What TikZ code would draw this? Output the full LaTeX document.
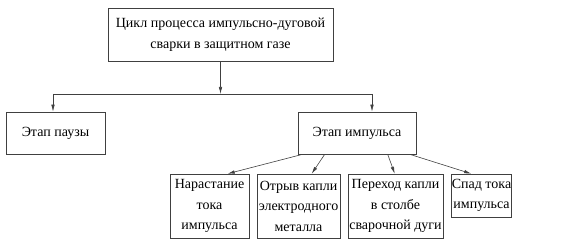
\documentclass[tikz,border=0pt]{standalone}
\usepackage{fontspec}
\setmainfont{Liberation Serif}
\usetikzlibrary{arrows.meta,calc}
\begin{document}
\begin{tikzpicture}[x=1pt,y=1pt,
  box/.style={draw=black!75,line width=0.6pt,align=center,inner sep=0pt,
    font=\fontsize{14}{20.5}\selectfont},
  conn/.style={draw=black!75,line width=0.6pt},
  arr/.style={conn,-{Latex[length=7pt,width=3.5pt]}}]
\useasboundingbox (0,0) rectangle (561,248);
\node[box,minimum width=225pt,minimum height=53pt] (top) at (220.5,213.5)
  {Цикл процесса импульсно-дуговой\\сварки в защитном газе};
\node[box,minimum width=99pt,minimum height=42pt] (pause) at (55.5,115) {Этап паузы};
\node[box,minimum width=118pt,minimum height=42pt] (imp) at (357,115) {Этап импульса};
\node[box,minimum width=79pt,minimum height=64pt] (b1) at (209.5,42) {Нарастание\\тока\\импульса};
\node[box,minimum width=83pt,minimum height=64pt] (b2) at (298.5,42) {Отрыв капли\\электродного\\металла};
\node[box,minimum width=95pt,minimum height=64pt] (b3) at (395.5,42) {Переход капли\\в столбе\\сварочной дуги};
\node[box,minimum width=60pt,minimum height=43pt] (b4) at (481.5,52.5) {Спад тока\\импульса};
\coordinate (j) at (top.south |- 0,154);
\coordinate (jl) at (53,154);
\coordinate (jr) at (372,154);
\draw[arr] (top.south) -- (j);
\draw[conn] (jl) -- (jr);
\draw[arr] (jl) -- (jl |- pause.north);
\draw[arr] (jr) -- (jr |- imp.north);
\draw[arr] ($(imp.south west)+(5,0)$) -- ($(b1.north west)+(58,0)$);
\draw[arr] ($(imp.south west)+(27,0)$) -- ($(b2.north west)+(55,0)$);
\draw[arr] ($(imp.south west)+(90,0)$) -- ($(b3.north west)+(47,0)$);
\draw[arr] ($(imp.south west)+(112,0)$) -- ($(b4.north west)+(20,0)$);
\end{tikzpicture}
\end{document}
